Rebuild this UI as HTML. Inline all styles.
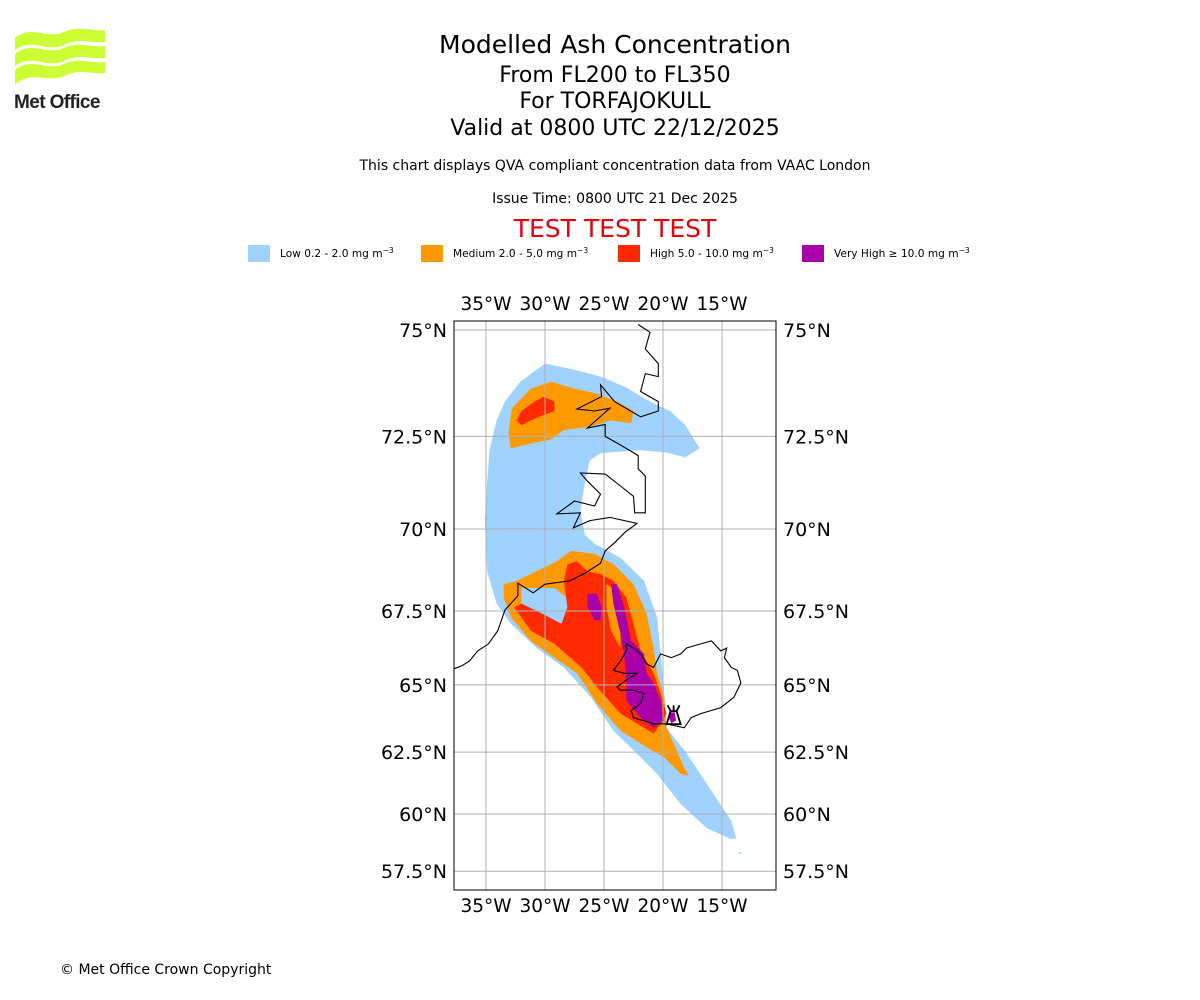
<!DOCTYPE html>
<html><head><meta charset="utf-8"><style>
body{margin:0;background:#fff;font-family:"Liberation Sans","DejaVu Sans",sans-serif;}
#wrap{position:relative;width:1200px;height:1000px;overflow:hidden;}
.t{position:absolute;left:0;width:1230px;text-align:center;color:#000;font-family:"DejaVu Sans","Liberation Sans",sans-serif;}
</style></head><body>
<div id="wrap">
<svg style="position:absolute;left:12px;top:28px" width="100" height="85" viewBox="0 0 100 85">
<g fill="#ccff33">
<path d="M3 10 C20 -4 35 12 52 4 C68 -3 80 4 93 2 L93 14 C80 16 68 9 52 17 C35 25 20 9 3 22 Z"/>
<path d="M3 26 C20 12 35 28 52 20 C68 13 80 20 93 18 L93 30 C80 32 68 25 52 33 C35 41 20 25 3 38 Z"/>
<path d="M3 42 C20 28 35 44 52 36 C68 29 80 36 93 34 L93 45 C80 47 68 40 52 48 C35 56 20 41 3 57 Z"/>
</g>
<text x="2" y="80" font-family="Liberation Sans,sans-serif" font-weight="bold" font-size="19" fill="#222" letter-spacing="-0.6">Met Office</text>
</svg>
<div class="t" style="top:30px;font-size:25px">Modelled Ash Concentration</div>
<div class="t" style="top:63px;font-size:22px">From FL200 to FL350</div>
<div class="t" style="top:89px;font-size:22px">For TORFAJOKULL</div>
<div class="t" style="top:116px;font-size:22px">Valid at 0800 UTC 22/12/2025</div>
<div class="t" style="top:158px;font-size:14px">This chart displays QVA compliant concentration data from VAAC London</div>
<div class="t" style="top:191px;font-size:14px">Issue Time: 0800 UTC 21 Dec 2025</div>
<div class="t" style="top:214px;font-size:25px;color:#e8000b">TEST TEST TEST</div>
<svg id="chart" style="position:absolute;left:0;top:0" width="1200" height="1000"></svg>
<div style="position:absolute;left:60px;top:962px;font-size:14px;font-family:'DejaVu Sans','Liberation Sans',sans-serif">© Met Office Crown Copyright</div>
</div>
<script>
const lonTicks=[-35,-30,-25,-20,-15];
const latTicks=[75,72.5,70,67.5,65,62.5,60,57.5];
const legendLabels=["Low 0.2 - 2.0 mg m","Medium 2.0 - 5.0 mg m","High 5.0 - 10.0 mg m","Very High \u2265 10.0 mg m"];
const legendColors=["#a0d2ff","#ff9900","#ff2a00","#aa00aa"];
const lowArea=[[-32.1,73.83],[-30.0,74.25],[-27.5,74.11],[-25.3,73.95],[-23.2,73.71],[-21.1,73.36],[-19.4,73.13],[-18.1,72.78],[-16.9,72.20],[-18.1,71.96],[-19.8,72.09],[-21.9,72.15],[-25.3,72.07],[-26.2,71.88],[-26.6,71.33],[-27.0,70.52],[-26.6,69.82],[-25.8,69.57],[-23.6,69.15],[-21.6,68.45],[-20.5,67.30],[-20.2,66.08],[-19.9,64.81],[-19.7,63.43],[-18.0,62.46],[-15.7,60.82],[-14.2,59.70],[-13.8,58.97],[-14.2,58.92],[-16.3,59.40],[-18.5,60.41],[-20.5,61.64],[-21.9,62.30],[-24.2,63.32],[-26.1,64.55],[-28.4,65.61],[-30.7,66.28],[-32.9,67.09],[-34.1,67.74],[-34.9,68.75],[-35.1,70.24],[-34.9,71.33],[-34.7,72.15],[-34.1,72.90],[-33.4,73.36]];
const lowDot=[[-13.6,58.36],[-13.4,58.36],[-13.4,58.28],[-13.6,58.28]];
const medUpper=[[-33.1,72.59],[-32.8,73.20],[-31.2,73.67],[-29.5,73.83],[-27.5,73.67],[-25.6,73.55],[-23.9,73.36],[-22.5,73.13],[-22.7,72.83],[-24.4,72.90],[-26.4,72.73],[-28.4,72.66],[-29.5,72.42],[-30.9,72.34],[-32.9,72.20]];
const highUpper=[[-32.4,72.90],[-32.0,73.13],[-30.9,73.36],[-30.1,73.48],[-29.2,73.36],[-29.2,73.13],[-30.3,73.01],[-31.2,72.90],[-32.0,72.78]];
const medLower=[[-33.5,68.35],[-32.4,68.45],[-29.0,69.05],[-27.8,69.36],[-25.8,69.27],[-24.2,68.96],[-22.5,68.35],[-21.4,67.43],[-20.8,66.28],[-20.5,65.41],[-19.9,64.55],[-19.7,63.45],[-18.2,61.89],[-17.8,61.56],[-18.5,61.64],[-19.9,62.30],[-21.4,62.69],[-23.6,63.32],[-25.6,64.33],[-27.3,65.41],[-29.2,65.95],[-31.2,66.52],[-32.9,67.30],[-33.5,67.93]];
const lowHole=[[-32.0,68.23],[-29.2,68.23],[-28.1,67.93],[-28.1,67.30],[-28.6,67.09],[-30.3,67.30],[-32.0,67.62]];
const highLower=[[-28.1,68.96],[-27.3,69.05],[-26.4,68.75],[-25.3,68.66],[-24.2,68.45],[-23.1,67.93],[-22.5,67.09],[-21.9,66.18],[-20.8,65.41],[-20.2,64.70],[-19.7,63.96],[-20.2,63.58],[-20.8,63.21],[-21.6,63.43],[-23.6,63.96],[-25.6,64.93],[-26.9,65.61],[-29.2,66.42],[-31.2,66.86],[-32.6,67.62],[-32.0,67.74],[-30.3,67.43],[-28.6,67.09],[-28.1,67.62],[-28.4,68.45]];
const medStreak=[[-24.8,68.35],[-24.2,68.23],[-23.6,67.09],[-23.6,66.28],[-24.4,66.86],[-24.8,67.62]];
const vhighBlob=[[-26.4,68.05],[-25.6,68.05],[-25.2,67.62],[-25.3,67.20],[-25.8,67.20],[-26.4,67.62]];
const vhighStreak=[[-24.4,68.35],[-23.9,68.35],[-23.3,67.62],[-22.7,66.52],[-21.6,66.08],[-21.4,65.41],[-20.8,65.07],[-20.2,64.44],[-19.9,63.69],[-20.8,63.43],[-21.9,63.81],[-23.1,64.44],[-23.1,65.17],[-23.3,66.08],[-23.6,66.76],[-24.2,67.74]];
const vhighSpot=[[-19.5,64.0],[-19.0,64.0],[-18.9,63.7],[-19.3,63.6],[-19.5,63.8]];
const greenlandCoast=[[-22.1,75.12],[-21.1,74.95],[-21.5,74.58],[-20.4,74.25],[-20.4,73.95],[-21.5,74.02],[-21.9,73.60],[-20.4,73.36],[-20.4,73.13],[-21.9,72.99],[-24.1,73.36],[-25.3,73.76],[-25.2,73.48],[-27.3,73.18],[-25.8,73.13],[-24.5,73.20],[-26.4,72.71],[-24.9,72.80],[-24.9,72.50],[-23.6,72.28],[-22.1,72.01],[-22.1,71.66],[-21.5,71.47],[-21.5,70.46],[-22.4,70.46],[-22.5,70.92],[-23.6,71.20],[-24.9,71.52],[-27.0,71.55],[-26.4,71.33],[-25.3,70.98],[-25.8,70.65],[-27.5,70.79],[-29.0,70.43],[-27.0,70.46],[-27.6,70.03],[-26.2,70.24],[-24.5,70.33],[-22.2,70.16],[-23.2,69.91],[-24.1,69.60],[-24.9,69.36],[-25.3,68.99],[-26.6,68.69],[-27.9,68.45],[-30.0,68.35],[-31.0,68.08],[-32.3,68.38],[-32.3,67.99],[-33.4,67.53],[-34.0,66.86],[-34.8,66.42],[-35.7,66.18],[-36.4,65.84],[-37.0,65.68],[-37.7,65.57]];
const icelandCoast=[[-23.1,66.42],[-22.5,66.28],[-21.9,66.08],[-21.4,65.74],[-20.8,65.61],[-20.2,66.08],[-19.3,65.95],[-18.5,66.08],[-18.0,66.28],[-16.8,66.42],[-15.9,66.52],[-15.1,66.18],[-14.6,66.28],[-14.8,65.95],[-14.2,65.61],[-13.7,65.51],[-13.4,65.07],[-14.0,64.55],[-15.1,64.18],[-16.8,63.96],[-17.6,63.81],[-18.2,63.43],[-19.7,63.58],[-20.8,63.58],[-22.5,63.81],[-22.7,64.07],[-21.9,64.33],[-21.6,64.70],[-22.5,64.81],[-23.6,64.81],[-23.9,64.93],[-23.1,65.17],[-22.2,65.41],[-23.3,65.41],[-24.2,65.51],[-23.6,65.84],[-23.1,66.18]];
const volcano=[-19.1,63.9];

const NS='http://www.w3.org/2000/svg';
const svg=document.getElementById('chart');
const X0=454,X1=776,Y0=321,Y1=890;
function M(lat){return Math.log(Math.tan(Math.PI/4+lat*Math.PI/360));}
function xs(lon){return 486+(lon+35)*11.8;}
function ys(lat){return 330+681*(M(75)-M(lat));}
function mk(tag,attrs,parent){const e=document.createElementNS(NS,tag);for(const k in attrs)e.setAttribute(k,attrs[k]);(parent||svg).appendChild(e);return e;}
function pts(a){return a.map(p=>xs(p[0]).toFixed(1)+','+ys(p[1]).toFixed(1)).join(' ');}

const defs=mk('defs',{});
const cp=mk('clipPath',{id:'mapclip'},defs);
mk('rect',{x:X0,y:Y0,width:X1-X0,height:Y1-Y0},cp);
const g=mk('g',{'clip-path':'url(#mapclip)'});

function area(a,col,name){const p=mk('polygon',{points:pts(a),fill:col},g);

}
area(lowArea,legendColors[0],'low-ash-area');
area(lowDot,legendColors[0],'low-ash-dot');
area(medUpper,legendColors[1],'medium-ash-upper');
area(highUpper,legendColors[2],'high-ash-upper');
area(medLower,legendColors[1],'medium-ash-lower');
area(lowHole,legendColors[0],'low-ash-inner');
area(highLower,legendColors[2],'high-ash-lower');
area(medStreak,legendColors[1],'medium-ash-streak');
area(vhighBlob,legendColors[3],'very-high-ash-blob');
area(vhighStreak,legendColors[3],'very-high-ash-streak');
area(vhighSpot,legendColors[3],'very-high-ash-spot');

lonTicks.forEach(l=>{const e=mk('line',{x1:xs(l),x2:xs(l),y1:Y0,y2:Y1,stroke:'#b0b0b0','stroke-width':1},g);

});
latTicks.forEach(l=>{const e=mk('line',{x1:X0,x2:X1,y1:ys(l),y2:ys(l),stroke:'#b0b0b0','stroke-width':1},g);

});

[[greenlandCoast,'greenland-coastline'],[icelandCoast,'iceland-coastline']].forEach(([c,n],i)=>{
const e=mk(i==1?'polygon':'polyline',{points:pts(c),fill:'none',stroke:'#000','stroke-width':1.1},g);

});

const vx=xs(volcano[0]),vy=ys(volcano[1]);
const vs=mk('path',{d:`M${vx-7} ${vy+9} L${vx-3} ${vy-4} L${vx+3} ${vy-4} L${vx+7} ${vy+9} Z M${vx-3} ${vy-4} L${vx-6} ${vy-10} M${vx} ${vy-4} L${vx} ${vy-10} M${vx+3} ${vy-4} L${vx+6} ${vy-10}`,fill:'none',stroke:'#000','stroke-width':1.8},g);



const fr=mk('rect',{x:X0,y:Y0,width:X1-X0,height:Y1-Y0,fill:'none',stroke:'#000','stroke-width':1});



function lonLab(l){return Math.abs(l)+'°W';}
function latLab(l){return l+'°N';}
const font='DejaVu Sans, Liberation Sans, sans-serif';
lonTicks.forEach(l=>{
 [[310,'top-longitude-label'],[912,'bottom-longitude-label']].forEach(([y,n])=>{
 const t=mk('text',{x:xs(l),y:y,'text-anchor':'middle','font-size':18.5,'font-family':font});t.textContent=lonLab(l);
 
 });
});
latTicks.forEach(l=>{
 const t=mk('text',{x:447,y:ys(l)+7,'text-anchor':'end','font-size':19,'font-family':font});t.textContent=latLab(l);
 
 
 const t2=mk('text',{x:783,y:ys(l)+7,'text-anchor':'start','font-size':19,'font-family':font});t2.textContent=latLab(l);
 
 
});

const legX=[248,421,618,802];
legendLabels.forEach((lab,i)=>{
 const r=mk('rect',{x:legX[i],y:245,width:22,height:17,fill:legendColors[i]});
 
 
 const t=mk('text',{x:legX[i]+32,y:257,'font-size':10.6,'font-family':font});
 t.textContent=lab;
 const s=mk('tspan',{dy:-4,'font-size':7.5},t);s.textContent='\u22123';
 
 
});
</script>
</body></html>
